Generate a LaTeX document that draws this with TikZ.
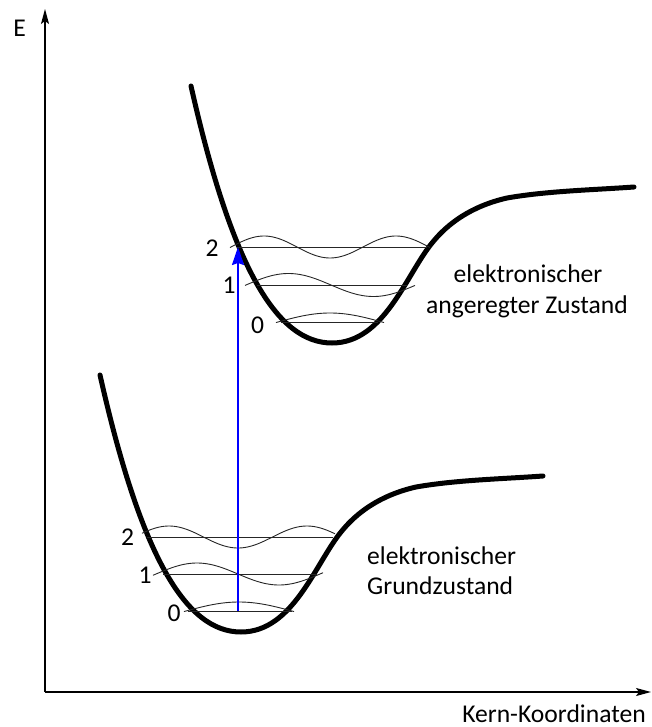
\documentclass[tikz,border=0pt]{standalone}
\usepackage{fontspec}
\setmainfont{Carlito}
\usetikzlibrary{arrows.meta}
\begin{document}
\begin{tikzpicture}[x=1pt,y=-1pt,
  pot/.style={line width=5pt,line cap=round,line join=round},
  lvl/.style={line width=0.9pt,black!85},
  wave/.style={line width=0.9pt,black!85},
  axis/.style={line width=1.2pt,-{Stealth[length=15pt,width=8pt,inset=3pt]}},
  lbl/.style={inner sep=0pt,font=\fontsize{25.6}{30}\selectfont},
  trans/.style={blue,line width=2pt,-{Stealth[length=18pt,width=12pt,inset=2pt]}}]
\useasboundingbox (0,0) rectangle (651,727);
% axes
\coordinate (O) at (45,692);
\coordinate (ytip) at (45,9);
\coordinate (xtip) at (651,692);
\draw[axis] (O) -- (ytip);
\draw[axis] (O) -- (xtip);
\node[lbl,anchor=base] (E) at (19.5,37) {E};
\node[lbl,anchor=base] (kk) at (554,722) {Kern-Koordinaten};
% potential curves (same shape, shifted)
\foreach \sx/\sy in {241/632,332/343}
  \draw[pot,shift={(\sx,\sy)}] (-141,-257)
     .. controls (-100,-75) and (-55,0) .. (0,0)
     .. controls (52,0) and (74,-68) .. (100,-100)
     .. controls (116,-120) and (140,-137) .. (175,-145)
     .. controls (215,-152) and (260,-153) .. (302,-156);
% vibrational levels: excited state
\coordinate (e2l) at (237,247); \coordinate (e2r) at (427,247);
\coordinate (e1l) at (257,285); \coordinate (e1r) at (407,285);
\coordinate (e0l) at (281,322); \coordinate (e0r) at (378,322);
\draw[lvl] (e2l) -- (e2r);
\draw[lvl] (e1l) -- (e1r);
\draw[lvl] (e0l) -- (e0r);
\draw[wave] plot[domain=230:430,samples=80] (\x,{247+11*cos(((\x-330)/132)*360)});
\draw[wave] plot[domain=245:415,samples=80] (\x,{285+11.5*sin(((\x-331)/170)*360)});
\draw[wave] plot[domain=276:384,samples=60] (\x,{322-9*cos(((\x-330)/52)*90)});
% vibrational levels: ground state
\coordinate (g2l) at (147,537); \coordinate (g2r) at (333,537);
\coordinate (g1l) at (163,574); \coordinate (g1r) at (317,574);
\coordinate (g0l) at (188,611); \coordinate (g0r) at (292,611);
\draw[lvl] (g2l) -- (g2r);
\draw[lvl] (g1l) -- (g1r);
\draw[lvl] (g0l) -- (g0r);
\draw[wave] plot[domain=142:335,samples=80] (\x,{537+11*cos(((\x-238)/138)*360)});
\draw[wave] plot[domain=153:323,samples=80] (\x,{574+11*sin(((\x-238)/164)*360)});
\draw[wave] plot[domain=184:294,samples=60] (\x,{611-9*cos(((\x-239)/53)*90)});
% level numbers
\node[lbl,anchor=base] (n2e) at (212,256) {2};
\node[lbl,anchor=base] (n1e) at (229,293) {1};
\node[lbl,anchor=base] (n0e) at (257.5,333) {0};
\node[lbl,anchor=base] (n2g) at (127.5,545) {2};
\node[lbl,anchor=base] (n1g) at (145,583) {1};
\node[lbl,anchor=base] (n0g) at (174,621) {0};
% state labels
\node[lbl,anchor=base] (ex1) at (528,282) {elektronischer};
\node[lbl,anchor=base] (ex2) at (527,313) {angeregter Zustand};
\node[lbl,anchor=base west] (gr1) at (367,564) {elektronischer};
\node[lbl,anchor=base west] (gr2) at (367,594) {Grundzustand};
% transition
\coordinate (g0m) at (238,611);
\coordinate (e2m) at (238,247);
\draw[trans] (g0m) -- (e2m);
\end{tikzpicture}
\end{document}
